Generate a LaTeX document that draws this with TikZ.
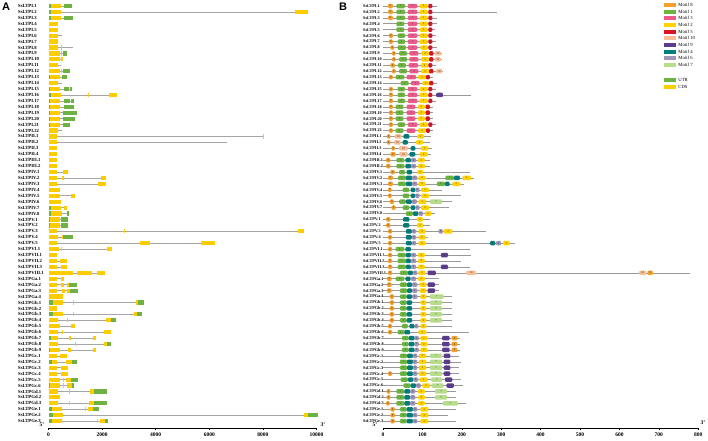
\documentclass[tikz,border=0pt]{standalone}
\usepackage{fontspec}
\setmainfont{Liberation Serif}
\newfontfamily\panelfont{Liberation Sans}
\usetikzlibrary{positioning}
\definecolor{utr}{RGB}{110,178,68}
\definecolor{cds}{RGB}{255,204,0}
\definecolor{mot1}{RGB}{108,179,63}
\definecolor{mot2}{RGB}{255,210,0}
\definecolor{mot3}{RGB}{236,90,140}
\definecolor{mot4}{RGB}{0,128,125}
\definecolor{mot5}{RGB}{220,20,40}
\definecolor{mot6}{RGB}{160,150,185}
\definecolor{mot7}{RGB}{182,220,140}
\definecolor{mot8}{RGB}{245,160,40}
\definecolor{mot9}{RGB}{92,60,140}
\definecolor{mot10}{RGB}{250,190,150}

% one gene of panel A: row, name, length (kb), exon list kind/from/to
\newcommand{\generow}[4]{%
  \pgfmathsetmacro{\rowy}{6+(#1-1)*5.93}
  \node[rowlab] (ga#1) at (18,\rowy) {SsLTP#2};
  \draw[intron] (48.5,\rowy) -- ({48.5+26.8*#3},\rowy);
  \foreach \seg/\sa/\sb in {#4} {
    \fill[\seg] ({48.5+26.8*\sa},\rowy-2.1) rectangle ({48.5+26.8*\sb},\rowy+2.1);
  }
}
% one protein of panel B: row, name, length (aa), motif list motif/from/to
\newcommand{\motifrow}[4]{%
  \pgfmathsetmacro{\rowy}{6+(#1-1)*5.93}
  \node[rowlab, font=\fontsize{4.2}{5}\selectfont\bfseries] (pb#1) at (363,\rowy) {SsLTP#2};
  \draw[protline] (383,\rowy) -- ({383+0.394*#3},\rowy);
  \foreach \mot/\ma/\mb in {#4} {
    \pgfmathsetmacro{\mw}{0.394*(\mb-\ma)}
    \node[motif, fill=mot\mot, minimum width=\mw pt] (m#1-\ma) at ({383+0.197*(\ma+\mb)},\rowy) {\mot};
  }
}

\begin{document}
\begin{tikzpicture}[x=1pt, y=-1pt,
    rowlab/.style={anchor=west, inner sep=0pt, font=\fontsize{4.7}{5}\selectfont\bfseries},
    intron/.style={draw=black!35, line width=0.6pt},
    protline/.style={draw=black!40, line width=0.6pt},
    motif/.style={rounded corners=1.1pt, minimum height=4.5pt, inner sep=0pt,
      text=black!75, font=\fontsize{3}{3}\selectfont},
    legbox/.style={minimum width=12pt, minimum height=4pt, inner sep=0pt},
    leglab/.style={inner sep=0pt, font=\fontsize{4.7}{5}\selectfont},
    ticklab/.style={inner sep=0pt, font=\fontsize{5.5}{6}\selectfont\bfseries},
    endlab/.style={inner sep=0pt, font=\fontsize{5.5}{6}\selectfont\bfseries},
    panel/.style={inner sep=0pt, font=\panelfont\fontsize{11}{12}\selectfont\bfseries}]
\useasboundingbox (0,0) rectangle (708,440);

\node[panel] (lblA) at (6,7) {A};
\node[panel] (lblB) at (343,7) {B};

% gene structures
\generow{1}{I.1}{0.88}{utr/0/0.09,cds/0.09/0.47,utr/0.58/0.88}
\generow{2}{I.2}{9.7}{utr/0/0.09,cds/0.09/0.47,cds/9.2/9.7}
\generow{3}{I.3}{0.91}{utr/0/0.09,cds/0.09/0.47,utr/0.58/0.91}
\generow{4}{I.4}{0.35}{cds/0/0.35}
\generow{5}{I.5}{0.35}{cds/0/0.35}
\generow{6}{I.6}{0.5}{cds/0/0.35}
\generow{7}{I.7}{0.35}{cds/0/0.35}
\generow{8}{I.8}{0.91}{cds/0/0.35,cds/0.45/0.48}
\generow{9}{I.9}{0.69}{cds/0/0.43,cds/0.47/0.52,utr/0.54/0.69}
\generow{10}{I.10}{0.54}{cds/0/0.43,cds/0.47/0.54}
\generow{11}{I.11}{0.47}{cds/0/0.35}
\generow{12}{I.12}{0.8}{cds/0/0.43,cds/0.47/0.52,utr/0.54/0.8}
\generow{13}{I.13}{0.69}{utr/0/0.05,cds/0.05/0.43,utr/0.5/0.69}
\generow{14}{I.14}{0.5}{cds/0/0.35}
\generow{15}{I.15}{0.88}{utr/0/0.05,cds/0.05/0.43,utr/0.58/0.76,utr/0.8/0.88}
\generow{16}{I.16}{2.55}{utr/0/0.09,cds/0.09/0.47,cds/1.47/1.5,cds/2.27/2.55}
\generow{17}{I.17}{0.95}{utr/0/0.05,cds/0.05/0.43,utr/0.58/0.8,utr/0.84/0.95}
\generow{18}{I.18}{0.95}{utr/0/0.05,cds/0.05/0.43,utr/0.58/0.95}
\generow{19}{I.19}{1.06}{utr/0/0.05,cds/0.05/0.43,utr/0.54/1.06}
\generow{20}{I.20}{0.99}{utr/0/0.05,cds/0.05/0.43,utr/0.54/0.99}
\generow{21}{I.21}{0.8}{utr/0/0.05,cds/0.05/0.43,utr/0.54/0.8}
\generow{22}{I.22}{0.5}{cds/0/0.35}
\generow{23}{II.1}{8.05}{cds/0/0.32,cds/8.0/8.05}
\generow{24}{II.2}{6.66}{cds/0/0.32}
\generow{25}{II.3}{0.32}{cds/0/0.32}
\generow{26}{II.4}{0.32}{cds/0/0.32}
\generow{27}{III.1}{0.32}{cds/0/0.32}
\generow{28}{III.2}{0.32}{cds/0/0.32}
\generow{29}{IV.1}{0.73}{cds/0/0.32,cds/0.54/0.73}
\generow{30}{IV.2}{2.15}{cds/0/0.32,cds/0.5/0.58,cds/1.96/2.15}
\generow{31}{IV.3}{2.15}{cds/0/0.32,cds/1.85/2.15}
\generow{32}{IV.4}{0.43}{cds/0/0.43}
\generow{33}{IV.5}{0.99}{cds/0/0.43,cds/0.84/0.99}
\generow{34}{IV.6}{0.47}{cds/0/0.47}
\generow{35}{IV.7}{0.69}{utr/0/0.09,cds/0.09/0.47,cds/0.58/0.69}
\generow{36}{IV.8}{0.76}{utr/0/0.09,cds/0.09/0.5,utr/0.69/0.76}
\generow{37}{V.1}{0.73}{utr/0/0.06,cds/0.06/0.43,utr/0.47/0.73}
\generow{38}{V.2}{0.73}{utr/0/0.06,cds/0.06/0.43,utr/0.47/0.73}
\generow{39}{V.3}{9.55}{cds/0/0.32,cds/2.8/2.85,cds/9.3/9.55}
\generow{40}{V.4}{0.91}{cds/0/0.35,cds/0.5/0.54,utr/0.54/0.91}
\generow{41}{V.5}{6.2}{cds/0/0.32,cds/3.4/3.8,cds/5.7/6.2}
\generow{42}{VI.1}{2.37}{cds/0/0.39,cds/0.47/0.5,cds/2.18/2.37}
\generow{43}{VII.1}{0.32}{cds/0/0.32}
\generow{44}{VII.2}{0.69}{cds/0/0.32,cds/0.43/0.69}
\generow{45}{VII.3}{0.69}{cds/0/0.32,cds/0.47/0.69}
\generow{46}{VIII.1}{2.11}{cds/0/0.91,cds/1.06/1.62,cds/1.81/2.11}
\generow{47}{Ga.1}{0.58}{cds/0/0.32,cds/0.47/0.58}
\generow{48}{Ga.2}{1.06}{cds/0/0.32,cds/0.47/0.58,cds/0.69/0.76,utr/0.76/1.06}
\generow{49}{Ga.3}{1.1}{cds/0/0.32,cds/0.5/0.62,cds/0.69/0.8,utr/0.8/1.1}
\generow{50}{Ga.4}{0.54}{cds/0/0.54}
\generow{51}{Gb.1}{3.55}{utr/0/0.17,cds/0.17/0.54,cds/0.91/0.93,cds/3.25/3.35,utr/3.35/3.55}
\generow{52}{Gb.2}{0.32}{cds/0/0.32}
\generow{53}{Gb.3}{3.5}{utr/0/0.17,cds/0.17/0.54,cds/0.91/0.93,cds/3.2/3.3,utr/3.3/3.5}
\generow{54}{Gb.4}{2.52}{cds/0/0.35,cds/0.69/0.71,cds/2.15/2.33,utr/2.33/2.52}
\generow{55}{Gb.5}{0.99}{cds/0/0.43,cds/0.84/0.99}
\generow{56}{Gb.6}{2.33}{cds/0/0.35,cds/0.5/0.52,cds/2.07/2.33}
\generow{57}{Gb.7}{1.77}{utr/0/0.09,cds/0.09/0.35,cds/0.76/0.84,cds/1.66/1.77}
\generow{58}{Gb.8}{2.33}{cds/0/0.35,cds/0.99/1.02,cds/2.07/2.18,utr/2.18/2.33}
\generow{59}{Gb.9}{1.77}{utr/0/0.06,cds/0.06/0.43,cds/0.73/0.84,cds/1.66/1.77}
\generow{60}{Gc.1}{0.69}{cds/0/0.32,cds/0.43/0.69}
\generow{61}{Gc.2}{1.06}{utr/0/0.13,cds/0.13/0.32,cds/0.65/0.88,utr/0.88/1.06}
\generow{62}{Gc.3}{0.73}{cds/0/0.32,cds/0.47/0.73}
\generow{63}{Gc.4}{0.73}{cds/0/0.32,cds/0.47/0.73}
\generow{64}{Gc.5}{1.1}{cds/0/0.43,cds/0.54/0.56,cds/0.65/0.84,utr/0.84/1.1}
\generow{65}{Gc.6}{0.95}{utr/0/0.06,cds/0.06/0.43,cds/0.54/0.56,cds/0.69/0.88,utr/0.88/0.95}
\generow{66}{Gd.1}{2.18}{cds/0/0.35,cds/0.76/0.82,cds/1.55/1.7,utr/1.7/2.18}
\generow{67}{Gd.2}{0.43}{cds/0/0.43}
\generow{68}{Gd.3}{2.18}{cds/0/0.35,cds/0.76/0.82,cds/1.51/1.7,utr/1.7/2.18}
\generow{69}{Ge.1}{1.88}{utr/0/0.13,cds/0.13/0.5,cds/1.36/1.38,cds/1.47/1.66,utr/1.66/1.88}
\generow{70}{Ge.2}{10.05}{utr/0/0.17,cds/0.17/0.54,cds/9.55/9.7,utr/9.7/10.05}
\generow{71}{Ge.3}{2.22}{utr/0/0.13,cds/0.13/0.5,cds/1.81/1.83,cds/1.92/2.11,utr/2.11/2.22}

% bp axis
\coordinate (a5) at (48.5,428);
\coordinate (a3) at (316.5,428);
\draw[line width=0.5pt] (a5) -- (a3);
\foreach \k/\lab in {0/0,2/2000,4/4000,6/6000,8/8000,10/10000} {
  \draw[line width=0.5pt] (48.5+26.8*\k,428) -- ++(0,2);
  \node[ticklab] (ta\k) at (48.5+26.8*\k,435) {\lab};
}
\node[endlab] (a5lab) at (42,425) {5'};
\node[endlab] (a3lab) at (323,425) {3'};

% motif structures
\motifrow{1}{I.1}{138}{8/13/25,1/34/56,3/63/87,2/93/113,5/115/125}
\motifrow{2}{I.2}{289}{8/13/25,1/34/56,3/63/87,2/93/113,5/115/125}
\motifrow{3}{I.3}{138}{8/13/25,1/34/56,3/63/87,2/93/113,5/115/125}
\motifrow{4}{I.4}{137}{1/34/54,3/63/87,2/93/113,5/115/125}
\motifrow{5}{I.5}{132}{1/34/54,3/63/87,2/93/113,5/115/125}
\motifrow{6}{I.6}{134}{8/15/25,1/37/56,3/63/87,2/93/113,5/115/125}
\motifrow{7}{I.7}{134}{8/15/25,1/37/56,3/63/87,2/93/113,5/115/125}
\motifrow{8}{I.8}{137}{8/19/28,1/37/58,3/63/87,2/95/113,5/115/125}
\motifrow{9}{I.9}{150}{8/23/32,1/41/61,3/67/90,2/97/117,5/117/128,10/132/147}
\motifrow{10}{I.10}{150}{8/23/32,1/41/61,3/67/90,2/97/117,5/117/128,10/132/147}
\motifrow{11}{I.11}{134}{8/19/30,1/38/58,3/65/89,2/96/115,5/115/125}
\motifrow{12}{I.12}{152}{8/23/32,1/41/61,3/67/90,2/97/117,5/117/128,10/135/150}
\motifrow{13}{I.13}{128}{8/15/25,1/32/54,3/60/84,2/89/109,5/109/119}
\motifrow{14}{I.14}{137}{1/45/65,3/71/93,2/100/117,5/117/128}
\motifrow{15}{I.15}{134}{8/15/25,1/37/56,3/63/87,2/93/113,5/115/125}
\motifrow{16}{I.16}{223}{8/15/25,1/37/56,3/63/87,2/93/113,5/115/125,9/135/152}
\motifrow{17}{I.17}{134}{8/15/25,1/37/56,3/63/87,2/93/113,5/115/125}
\motifrow{18}{I.18}{128}{8/15/25,1/32/52,3/60/82,2/89/106,5/108/119}
\motifrow{19}{I.19}{128}{8/15/25,1/32/52,3/60/82,2/89/106,5/108/119}
\motifrow{20}{I.20}{128}{8/15/25,1/32/52,3/60/82,2/89/106,5/108/119}
\motifrow{21}{I.21}{134}{8/15/25,1/37/56,3/63/87,2/93/113,5/115/125}
\motifrow{22}{I.22}{128}{8/15/25,1/32/52,3/60/82,2/89/109,5/109/119}
\motifrow{23}{II.1}{122}{8/10/19,10/30/47,4/52/67,2/87/104}
\motifrow{24}{II.2}{119}{8/10/19,10/28/45,4/50/63,2/84/102}
\motifrow{25}{II.3}{125}{8/22/30,10/41/63,4/70/82,2/96/115}
\motifrow{26}{II.4}{123}{8/19/32,10/41/63,4/67/82,2/93/113}
\motifrow{27}{III.1}{119}{8/8/19,1/34/54,4/57/71,6/71/84,2/89/106}
\motifrow{28}{III.2}{119}{8/8/19,1/34/54,4/57/71,6/71/84,2/89/106}
\motifrow{29}{IV.1}{222}{8/19/30,1/41/56,4/60/74,2/87/102}
\motifrow{30}{IV.2}{230}{8/13/25,1/38/58,4/58/74,6/74/87,2/90/108,1/158/180,4/180/195,2/202/223}
\motifrow{31}{IV.3}{206}{8/13/25,1/38/58,4/58/74,6/74/87,2/90/108,1/137/157,4/157/169,2/176/197}
\motifrow{32}{IV.4}{150}{8/13/22,1/50/67,4/70/82,6/82/93,2/97/117}
\motifrow{33}{IV.5}{197}{8/13/22,1/50/67,4/70/82,6/82/93,2/97/117}
\motifrow{34}{IV.6}{176}{8/17/28,1/41/58,4/58/73,6/73/86,2/90/110,7/119/150}
\motifrow{35}{IV.7}{167}{8/22/32,1/50/67,4/70/82,6/82/93,2/97/117}
\motifrow{36}{IV.8}{132}{1/58/76,4/76/90,6/90/102,2/106/123}
\motifrow{37}{V.1}{119}{8/8/19,4/51/67,2/86/102}
\motifrow{38}{V.2}{119}{8/8/19,4/51/67,2/86/102}
\motifrow{39}{V.3}{261}{8/13/23,4/58/73,6/73/84,2/90/108,6/141/152,2/154/176}
\motifrow{40}{V.4}{115}{8/13/23,4/58/73,6/73/84,2/90/108}
\motifrow{41}{V.5}{335}{8/13/23,4/58/73,6/73/84,2/90/108,4/272/285,6/287/300,2/305/322}
\motifrow{42}{VI.1}{222}{8/13/23,1/32/54,4/57/71}
\motifrow{43}{VII.1}{223}{8/13/23,1/37/58,4/58/71,6/71/84,2/89/106,9/147/165}
\motifrow{44}{VII.2}{197}{8/13/23,1/37/58,4/58/71,6/71/84,2/89/106}
\motifrow{45}{VII.3}{222}{8/13/23,1/37/58,4/58/71,6/71/84,2/89/106,9/147/165}
\motifrow{46}{VIII.1}{780}{8/13/23,1/43/63,4/63/76,6/76/87,2/90/108,9/113/134,10/211/236,10/650/668,8/671/685}
\motifrow{47}{Ga.1}{141}{8/10/22,1/32/54,4/57/70,6/71/84,2/89/106}
\motifrow{48}{Ga.2}{141}{8/10/22,1/43/61,4/61/74,6/74/87,2/93/110,9/113/132}
\motifrow{49}{Ga.3}{141}{8/10/22,1/43/61,4/61/74,6/74/87,2/93/110,9/113/132}
\motifrow{50}{Ga.4}{176}{8/17/28,1/43/60,4/60/74,6/74/87,2/95/110,7/119/154}
\motifrow{51}{Gb.1}{176}{8/17/28,1/43/60,4/60/74,2/95/110,7/119/150}
\motifrow{52}{Gb.2}{176}{8/17/28,1/43/60,4/60/74,2/95/110,7/119/150}
\motifrow{53}{Gb.3}{176}{8/17/28,1/43/60,4/60/74,2/95/110,7/119/150}
\motifrow{54}{Gb.4}{176}{8/17/28,1/43/60,4/60/74,2/95/110,7/119/150}
\motifrow{55}{Gb.5}{176}{8/13/23,1/48/63,4/67/80,6/80/90,2/95/110}
\motifrow{56}{Gb.6}{219}{8/13/23,1/37/54,4/54/69,2/90/110}
\motifrow{57}{Gb.7}{195}{1/48/65,4/65/80,6/80/91,2/95/113,9/150/169,8/174/189}
\motifrow{58}{Gb.8}{195}{1/48/65,4/65/80,6/80/91,2/95/113,9/150/169,8/174/189}
\motifrow{59}{Gb.9}{195}{1/48/65,4/65/80,6/80/91,2/95/113,9/150/169,8/174/189}
\motifrow{60}{Gc.1}{193}{1/43/61,4/61/76,6/76/87,2/91/110,7/119/150,9/154/171}
\motifrow{61}{Gc.2}{197}{1/43/61,4/61/76,6/76/87,2/91/110,7/119/150,9/154/171}
\motifrow{62}{Gc.3}{193}{1/43/61,4/61/76,6/76/87,2/91/110,7/119/150,9/154/171}
\motifrow{63}{Gc.4}{193}{8/13/23,1/43/61,4/61/76,6/76/87,2/91/110,7/119/150,9/154/171}
\motifrow{64}{Gc.5}{197}{1/45/63,4/63/77,6/77/89,2/93/113,7/122/150,9/157/176}
\motifrow{65}{Gc.6}{202}{1/52/70,4/70/84,6/84/96,2/100/119,7/123/154,9/161/180}
\motifrow{66}{Gd.1}{184}{8/9/19,1/34/54,4/54/69,6/69/82,2/89/106,7/132/163}
\motifrow{67}{Gd.2}{184}{8/9/19,1/34/54,4/54/69,6/69/82,2/89/106,7/132/163}
\motifrow{68}{Gd.3}{210}{8/8/17,1/34/54,4/54/69,6/69/82,2/89/106,7/152/190}
\motifrow{69}{Ge.1}{185}{8/19/30,1/43/60,4/60/76,6/76/87,2/95/115}
\motifrow{70}{Ge.2}{165}{8/19/30,1/43/60,4/60/76,6/76/87,2/95/115}
\motifrow{71}{Ge.3}{185}{8/19/30,1/43/60,4/60/76,6/76/87,2/95/115}

% aa axis
\coordinate (b5) at (383,428);
\coordinate (b3) at (698.2,428);
\draw[line width=0.5pt] (b5) -- (b3);
\foreach \k/\lab in {0/0,1/100,2/200,3/300,4/400,5/500,6/600,7/700,8/800} {
  \draw[line width=0.5pt] (383+39.4*\k,428) -- ++(0,2);
  \node[ticklab] (tb\k) at (383+39.4*\k,435) {\lab};
}
\node[endlab] (b5lab) at (375,425) {5'};
\node[endlab] (b3lab) at (703,423) {3'};

% legend
\foreach \mot [count=\k] in {8,1,3,2,5,10,9,4,6,7} {
  \node[legbox, fill=mot\mot] (key\mot) at (670,{5+(\k-1)*6.67}) {};
  \node[leglab, right=2pt of key\mot] (keylab\mot) {Motif \mot};
}
\node[legbox, fill=utr] (keyutr) at (670,80) {};
\node[leglab, right=2pt of keyutr] (keylabutr) {UTR};
\node[legbox, fill=cds] (keycds) at (670,86.7) {};
\node[leglab, right=2pt of keycds] (keylabcds) {CDS};
\end{tikzpicture}
\end{document}
